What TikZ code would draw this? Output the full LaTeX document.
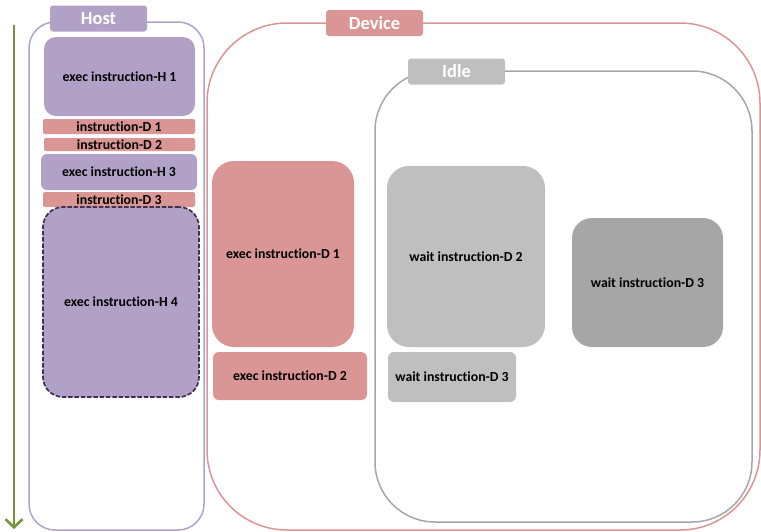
\documentclass[tikz,border=0pt]{standalone}
\usepackage{fontspec}
\setmainfont{Carlito}[Ligatures=NoCommon]
\usetikzlibrary{arrows.meta, positioning}
\definecolor{hostc}{RGB}{178, 161, 199}
\definecolor{devc}{RGB}{218, 150, 148}
\definecolor{idlec}{RGB}{191, 191, 191}
\definecolor{waitc}{RGB}{166, 166, 166}
\definecolor{dashc}{RGB}{64, 49, 82}
\definecolor{timec}{RGB}{119, 147, 60}

\begin{document}
\begin{tikzpicture}[x=1pt, y=-1pt,
  frame/.style={rectangle, rounded corners=#1, draw, line width=1.5pt,
                inner sep=0pt},
  tab/.style={rectangle, rounded corners=3pt, fill=#1, text=white,
              minimum width=97pt, minimum height=26pt, inner sep=0pt,
              font=\fontsize{18.5}{20}\selectfont\bfseries},
  blk/.style={rectangle, rounded corners=#1, inner sep=0pt, align=center,
              font=\fontsize{13.8}{15}\selectfont\bfseries},
  arr/.style={-{Straight Barb[length=8pt, width=17pt]}, line width=2.6pt, #1}
]
\useasboundingbox (0,0) rectangle (761,531);

% Time axis
\coordinate (tstart) at (14,25);
\coordinate (tend)   at (14,529);
\draw[arr=timec] (tstart) -- (tend);

% Host column
\node[frame=26pt, draw=hostc, minimum width=175pt, minimum height=508pt]
  (host) at (116.5,276) {};
\node[tab=hostc] (hosttab) at (98.5,18.5) {Host};
\node[blk=12pt, fill=hostc, minimum width=151pt, minimum height=79pt]
  (h1) at (119.5,76.5) {exec instruction-H 1};
\node[blk=2pt, fill=devc, minimum width=152pt, minimum height=15pt]
  (d1) at (119,126.5) {instruction-D 1};
\node[blk=2pt, fill=devc, minimum width=151pt, minimum height=13pt]
  (d2) at (119.5,144.5) {instruction-D 2};
\node[blk=6pt, fill=hostc, minimum width=156pt, minimum height=36pt]
  (h3) at (119,172) {exec instruction-H 3};
\node[blk=2pt, fill=devc, minimum width=152pt, minimum height=15pt]
  (d3) at (119,199.5) {instruction-D 3};
\node[blk=20pt, fill=hostc, draw=dashc, dash pattern=on 4.5pt off 1.8pt,
      line width=1.7pt, minimum width=156pt, minimum height=190pt]
  (h4) at (121,302) {exec instruction-H 4};

% Device column
\node[frame=80pt, draw=devc, minimum width=553pt, minimum height=507pt]
  (dev) at (483.5,276.5) {};
\node[tab=devc] (devtab) at (374.5,23) {Device};
\node[blk=22pt, fill=devc, minimum width=142pt, minimum height=186pt]
  (e1) at (283,254) {exec instruction-D 1};
\node[blk=6pt, fill=devc, minimum width=154pt, minimum height=48pt]
  (e2) at (290,376) {exec instruction-D 2};

% Idle region
\node[frame=60pt, draw=waitc, minimum width=377pt, minimum height=451pt]
  (idle) at (563.5,296.5) {};
\node[tab=idlec] (idletab) at (456.5,71.5) {Idle};
\node[blk=22pt, fill=idlec, minimum width=158pt, minimum height=181pt]
  (w2) at (466,256.5) {wait instruction-D 2};
\node[blk=6pt, fill=idlec, minimum width=128pt, minimum height=50pt]
  (w3) at (452,377) {wait instruction-D 3};
\node[blk=20pt, fill=waitc, minimum width=151pt, minimum height=129pt]
  (w3b) at (647.5,282.5) {wait instruction-D 3};
\end{tikzpicture}
\end{document}
